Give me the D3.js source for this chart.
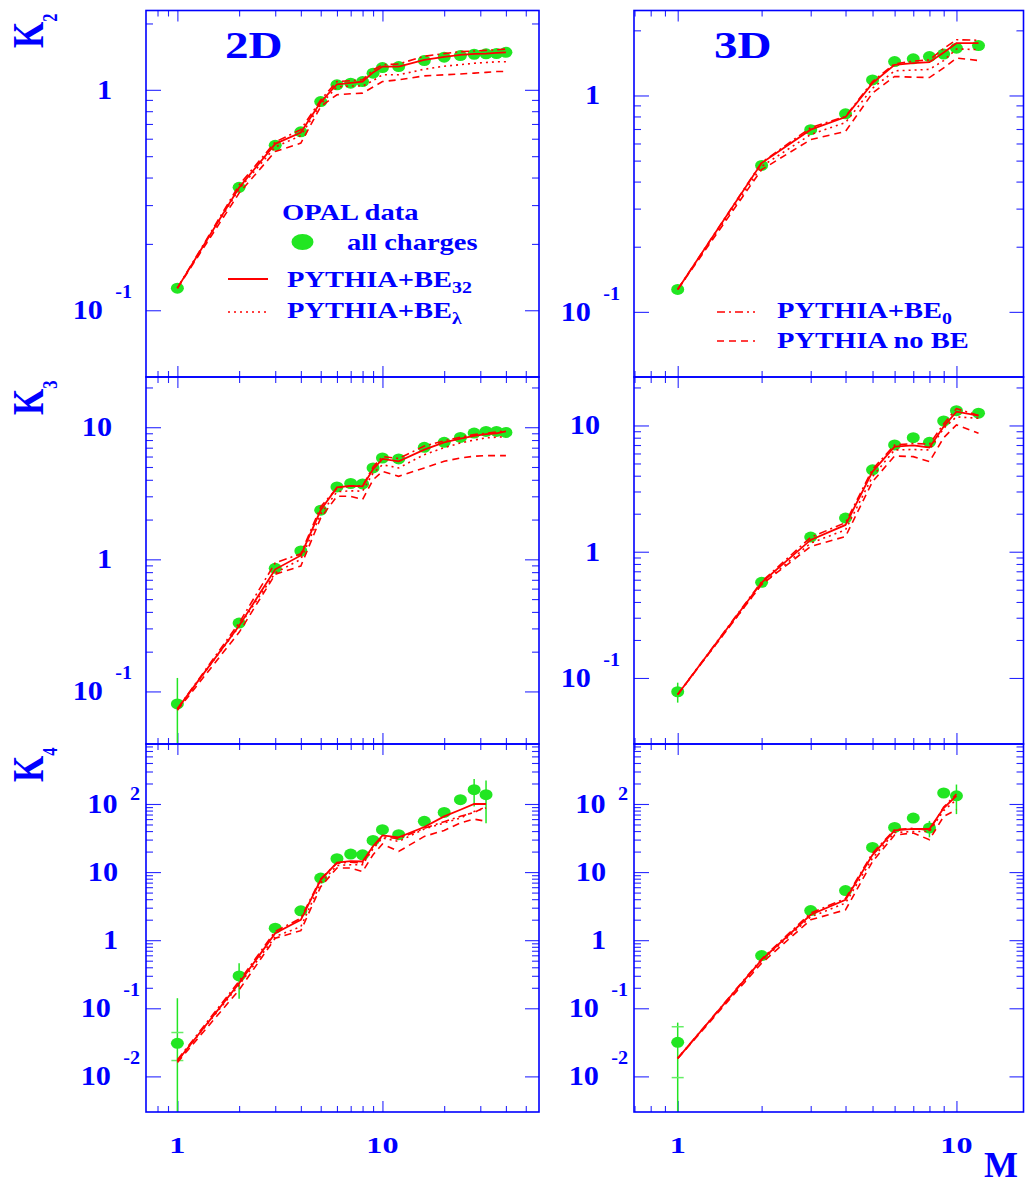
<!DOCTYPE html>
<html lang="en">
<head>
<meta charset="utf-8">
<title>OPAL K2 K3 K4 vs M</title>
<script src="https://cdn.jsdelivr.net/npm/d3@7"></script>
<style>
  body { margin: 0; background: #fff; }
  text { font-family: "Liberation Serif", "Times New Roman", serif; font-weight: bold; fill: #0000ff; }
</style>
</head>
<body>
<script>
// ---- bin numbers M ----
var m2D   = [1, 2, 3, 4, 5, 6, 7, 8, 9, 10, 12, 16, 20, 24, 28, 32, 36, 40];
var m2DK4 = [1, 2, 3, 4, 5, 6, 7, 8, 9, 10, 12, 16, 20, 24, 28, 32];
var m3D   = [1, 2, 3, 4, 5, 6, 7, 8, 9, 10, 12];
var m3DK4 = [1, 2, 3, 4, 5, 6, 7, 8, 9, 10];

// ---- K2, 2D ----
var k2_2d_opal = [0.126, 0.361, 0.56, 0.645, 0.885, 1.054, 1.072, 1.09, 1.19, 1.262, 1.275, 1.358, 1.406, 1.43, 1.45, 1.456, 1.46, 1.48];
var k2_2d_be32 = [0.126, 0.36, 0.569, 0.64, 0.88, 1.06, 1.075, 1.09, 1.2, 1.275, 1.275, 1.367, 1.41, 1.44, 1.455, 1.46, 1.47, 1.48];
var k2_2d_bel  = [0.126, 0.355, 0.55, 0.62, 0.86, 1.03, 1.04, 1.04, 1.1, 1.17, 1.17, 1.24, 1.28, 1.3, 1.32, 1.33, 1.34, 1.34];
var k2_2d_be0  = [0.126, 0.37, 0.58, 0.66, 0.9, 1.09, 1.1, 1.11, 1.23, 1.3, 1.31, 1.42, 1.46, 1.49, 1.5, 1.51, 1.52, 1.53];
var k2_2d_nobe = [0.126, 0.34, 0.525, 0.573, 0.84, 0.95, 0.96, 0.966, 1.03, 1.09, 1.11, 1.157, 1.17, 1.18, 1.19, 1.2, 1.21, 1.21];
var k2_2d_err  = [0, 0, 0, 0, 0, 0, 0, 0, 0, 0, 0, 0, 0, 0, 0, 0, 0, 0];

// ---- K2, 3D ----
var k2_3d_opal = [0.127, 0.475, 0.695, 0.823, 1.18, 1.435, 1.477, 1.513, 1.553, 1.654, 1.70];
var k2_3d_be32 = [0.127, 0.487, 0.695, 0.795, 1.14, 1.386, 1.41, 1.425, 1.58, 1.745, 1.745];
var k2_3d_bel  = [0.127, 0.47, 0.66, 0.75, 1.08, 1.3, 1.31, 1.32, 1.45, 1.64, 1.63];
var k2_3d_be0  = [0.127, 0.49, 0.71, 0.8, 1.16, 1.4, 1.44, 1.46, 1.65, 1.81, 1.8];
var k2_3d_nobe = [0.127, 0.454, 0.625, 0.682, 1.026, 1.224, 1.215, 1.21, 1.34, 1.49, 1.45];
var k2_3d_err  = [0, 0, 0, 0, 0, 0, 0, 0, 0, 0, 0];

// ---- K3, 2D ----
var k3_2d_opal = [0.0805, 0.329, 0.855, 1.156, 2.355, 3.535, 3.75, 3.72, 4.92, 5.85, 5.75, 7.04, 7.68, 8.37, 9.04, 9.3, 9.3, 9.14];
var k3_2d_be32 = [0.0738, 0.314, 0.84, 1.07, 2.36, 3.5, 3.6, 3.57, 4.8, 5.75, 5.52, 6.76, 7.68, 8.2, 8.6, 8.88, 9.0, 9.3];
var k3_2d_bel  = [0.0738, 0.31, 0.79, 1.0, 2.2, 3.25, 3.3, 3.28, 4.5, 5.2, 4.92, 6.2, 7.0, 7.6, 8.0, 8.3, 8.4, 8.5];
var k3_2d_be0  = [0.0738, 0.33, 0.94, 1.1, 2.5, 3.45, 3.6, 3.6, 5.0, 6.0, 5.8, 7.2, 7.9, 8.4, 8.8, 9.0, 9.2, 9.4];
var k3_2d_nobe = [0.072, 0.28, 0.77, 0.89, 2.06, 3.0, 3.0, 2.84, 4.0, 4.64, 4.25, 4.92, 5.52, 5.85, 6.03, 6.1, 6.1, 6.1];
var k3_2d_err  = [0.046, 0, 0, 0, 0, 0, 0, 0, 0, 0, 0, 0, 0, 0, 0, 0, 0, 0];

// ---- K3, 3D ----
var k3_3d_opal = [0.0778, 0.572, 1.306, 1.846, 4.45, 7.01, 8.01, 7.36, 10.85, 13.1, 12.5];
var k3_3d_be32 = [0.074, 0.57, 1.24, 1.63, 4.31, 6.8, 6.95, 6.7, 9.8, 12.85, 11.95];
var k3_3d_bel  = [0.074, 0.55, 1.17, 1.49, 3.94, 6.4, 6.45, 6.4, 9.5, 11.7, 11.4];
var k3_3d_be0  = [0.074, 0.58, 1.3, 1.7, 4.5, 7.0, 7.2, 7.1, 10.3, 13.6, 12.0];
var k3_3d_nobe = [0.074, 0.55, 1.1, 1.32, 3.59, 5.74, 5.66, 5.17, 8.0, 10.1, 8.67];
var k3_3d_err  = [0.014, 0, 0, 0, 0, 0, 0, 0, 0, 0, 0];

// ---- K4, 2D ----
var k4_2d_opal = [0.0306, 0.2985, 1.50, 2.70, 8.16, 15.7, 18.4, 17.96, 29.2, 41.9, 35.4, 55.6, 75.2, 115.7, 162, 137];
var k4_2d_be32 = [0.0168, 0.233, 1.27, 1.99, 7.7, 13.8, 14.5, 14.3, 24, 34.5, 32.3, 45.9, 65.7, 82.4, 100, 100];
var k4_2d_bel  = [0.0168, 0.22, 1.13, 1.58, 6.9, 12.5, 12.8, 12.8, 22, 31.6, 28.2, 42.9, 52.7, 62.2, 77.8, 87.5];
var k4_2d_be0  = [0.0175, 0.25, 1.35, 2.1, 8.0, 13.5, 14.0, 13.5, 24, 33, 31, 44, 55, 66, 75, 92];
var k4_2d_nobe = [0.016, 0.186, 1.07, 1.38, 6.1, 11.5, 11.5, 10.2, 18, 25.8, 20.1, 33.4, 40.9, 52.7, 60, 55.6];
var k4_2d_err  = [0.11, 0.16, 0, 0, 0, 0, 0, 0, 0, 0, 0, 0, 0, 0, 70, 85];
var k4_2d_stat = [0.0135, 0, 0, 0, 0, 0, 0, 0, 0, 0, 0, 0, 0, 0, 0, 0];

// ---- K4, 3D ----
var k4_3d_opal = [0.0316, 0.594, 2.72, 5.36, 23, 45.3, 62.2, 44.4, 145, 132];
var k4_3d_be32 = [0.0184, 0.513, 2.36, 3.92, 17.9, 40.9, 43, 42.9, 87.3, 132];
var k4_3d_bel  = [0.0184, 0.5, 2.2, 3.5, 16.1, 38, 39.5, 39.5, 80, 115.7];
var k4_3d_be0  = [0.0184, 0.53, 2.5, 4.1, 19, 42, 44, 41, 90, 140];
var k4_3d_nobe = [0.0184, 0.46, 1.99, 2.79, 14.3, 35, 37.5, 29.9, 65.7, 82.4];
var k4_3d_err  = [0.03, 0.06, 0, 0, 0, 0, 0, 12, 0, 61];
var k4_3d_stat = [0.022, 0, 0, 0, 0, 0, 0, 0, 0, 0];

// ---- tick labels ----
var xTickVals = [1, 10];
var xTickText = ["1", "10"];
var k2TickVals = [0.1, 1];
var k2TickText = ["10^-1", "1"];
var k3TickVals = [0.1, 1, 10];
var k3TickText = ["10^-1", "1", "10"];
var k4TickVals = [0.01, 0.1, 1, 10, 100];
var k4TickText = ["10^-2", "10^-1", "1", "10", "10^2"];

// ---- layout ----
var W = 1025, H = 1186;
var cols = [
  { x0: 146, x1: 539, dom: [0.703, 58] },
  { x0: 634, x1: 1023.5, dom: [0.697, 17.4] }
];
var rows = [
  { y0: 10.5, y1: 377, dom: [[0.0498, 2.29], [0.05, 2.47]], tv: k2TickVals, tt: k2TickText, plainOff: 34, expOff: 14 },
  { y0: 377, y1: 744, dom: [[0.04, 24], [0.03, 24.2]], tv: k3TickVals, tt: k3TickText, plainOff: 34, expOff: 14 },
  { y0: 744, y1: 1112, dom: [[0.003, 760], [0.003, 760]], tv: k4TickVals, tt: k4TickText, plainOff: 28, expOff: 6 }
];

var panels = [
  { c: 0, r: 0, m: m2D,   opal: k2_2d_opal, err: k2_2d_err, be32: k2_2d_be32, bel: k2_2d_bel, be0: k2_2d_be0, nobe: k2_2d_nobe },
  { c: 1, r: 0, m: m3D,   opal: k2_3d_opal, err: k2_3d_err, be32: k2_3d_be32, bel: k2_3d_bel, be0: k2_3d_be0, nobe: k2_3d_nobe },
  { c: 0, r: 1, m: m2D,   opal: k3_2d_opal, err: k3_2d_err, be32: k3_2d_be32, bel: k3_2d_bel, be0: k3_2d_be0, nobe: k3_2d_nobe },
  { c: 1, r: 1, m: m3D,   opal: k3_3d_opal, err: k3_3d_err, be32: k3_3d_be32, bel: k3_3d_bel, be0: k3_3d_be0, nobe: k3_3d_nobe },
  { c: 0, r: 2, m: m2DK4, opal: k4_2d_opal, err: k4_2d_err, stat: k4_2d_stat, be32: k4_2d_be32, bel: k4_2d_bel, be0: k4_2d_be0, nobe: k4_2d_nobe },
  { c: 1, r: 2, m: m3DK4, opal: k4_3d_opal, err: k4_3d_err, stat: k4_3d_stat, be32: k4_3d_be32, bel: k4_3d_bel, be0: k4_3d_be0, nobe: k4_3d_nobe }
];

var BLUE = "#0000ff", RED = "#ff0000", GREEN = "#22e622";
var styles = {
  be32: { dash: null,        w: 1.8 },
  bel:  { dash: "2,4",       w: 1.6 },
  be0:  { dash: "8,4,2,4",   w: 1.6 },
  nobe: { dash: "7,5",       w: 1.6 }
};

var svg = d3.select("body").append("svg")
  .attr("width", W).attr("height", H);

// text with horizontal stretch
function stext(parent, x, y, size, sx, anchor) {
  return parent.append("text")
    .attr("transform", "translate(" + x + "," + y + ") scale(" + sx + ",1)")
    .attr("text-anchor", anchor)
    .style("font-size", size + "px");
}

function minorTicks(dom) {
  var out = [];
  [0.1, 1, 10, 100].forEach(function(d) {
    for (var k = 2; k <= 9; k++) {
      var v = k * d;
      if (v > dom[0] && v < dom[1]) out.push(v);
    }
  });
  return out;
}
function majorTicks(dom) {
  return [0.001, 0.01, 0.1, 1, 10, 100, 1000].filter(function(v) { return v >= dom[0] && v <= dom[1]; });
}

function styleAxis(sel) {
  sel.select(".domain").remove();
  sel.selectAll("line").attr("stroke", BLUE).attr("stroke-width", 1.1);
}

panels.forEach(function(p, i) {
  var col = cols[p.c], row = rows[p.r];
  var ydom = row.dom[p.c];
  var x = d3.scaleLog().domain(col.dom).range([col.x0, col.x1]);
  var y = d3.scaleLog().domain(ydom).range([row.y1, row.y0]);
  var g = svg.append("g");

  svg.append("clipPath").attr("id", "clip" + i)
    .append("rect").attr("x", col.x0).attr("y", row.y0)
    .attr("width", col.x1 - col.x0).attr("height", row.y1 - row.y0);

  // ticks on all four sides, pointing inwards
  var xMaj = majorTicks(col.dom), xMin = minorTicks(col.dom);
  var yMaj = majorTicks(ydom), yMin = minorTicks(ydom);
  g.append("g").attr("transform", "translate(0," + row.y1 + ")")
    .call(d3.axisBottom(x).tickValues(xMaj).tickSize(-11).tickFormat("")).call(styleAxis);
  g.append("g").attr("transform", "translate(0," + row.y1 + ")")
    .call(d3.axisBottom(x).tickValues(xMin).tickSize(-6).tickFormat("")).call(styleAxis);
  g.append("g").attr("transform", "translate(0," + row.y0 + ")")
    .call(d3.axisTop(x).tickValues(xMaj).tickSize(-11).tickFormat("")).call(styleAxis);
  g.append("g").attr("transform", "translate(0," + row.y0 + ")")
    .call(d3.axisTop(x).tickValues(xMin).tickSize(-6).tickFormat("")).call(styleAxis);
  g.append("g").attr("transform", "translate(" + col.x0 + ",0)")
    .call(d3.axisLeft(y).tickValues(yMaj).tickSize(-15).tickFormat("")).call(styleAxis);
  g.append("g").attr("transform", "translate(" + col.x0 + ",0)")
    .call(d3.axisLeft(y).tickValues(yMin).tickSize(-7).tickFormat("")).call(styleAxis);
  g.append("g").attr("transform", "translate(" + col.x1 + ",0)")
    .call(d3.axisRight(y).tickValues(yMaj).tickSize(-14).tickFormat("")).call(styleAxis);
  g.append("g").attr("transform", "translate(" + col.x1 + ",0)")
    .call(d3.axisRight(y).tickValues(yMin).tickSize(-7).tickFormat("")).call(styleAxis);
  g.selectAll(".tick line").attr("stroke-opacity", 0.85);

  var plot = g.append("g").attr("clip-path", "url(#clip" + i + ")");

  // error bars
  p.m.forEach(function(m, j) {
    var e = p.err[j];
    if (e > 0) {
      var v = p.opal[j];
      var lo = v - e > ydom[0] ? y(v - e) : row.y1 + 2;
      plot.append("line")
        .attr("x1", x(m)).attr("x2", x(m))
        .attr("y1", y(v + e)).attr("y2", lo)
        .attr("stroke", GREEN).attr("stroke-width", 1.5);
    }
    if (p.stat && p.stat[j] > 0) {
      [p.opal[j] + p.stat[j], p.opal[j] - p.stat[j]].forEach(function(s) {
        plot.append("line")
          .attr("x1", x(m) - 6).attr("x2", x(m) + 6)
          .attr("y1", y(s)).attr("y2", y(s))
          .attr("stroke", "#66ee66").attr("stroke-width", 1.5);
      });
    }
  });

  // data points
  plot.selectAll("ellipse.pt").data(p.m).enter().append("ellipse")
    .attr("class", "pt")
    .attr("cx", function(m) { return x(m); })
    .attr("cy", function(m, j) { return y(p.opal[j]); })
    .attr("rx", 6.5).attr("ry", 5.5)
    .attr("fill", GREEN);

  // model curves
  ["nobe", "be0", "bel", "be32"].forEach(function(key) {
    var line = d3.line()
      .x(function(m) { return x(m); })
      .y(function(m, j) { return y(p[key][j]); });
    plot.append("path")
      .attr("d", line(p.m))
      .attr("fill", "none")
      .attr("stroke", RED)
      .attr("stroke-width", styles[key].w)
      .attr("stroke-dasharray", styles[key].dash);
  });

  // frame
  g.append("rect")
    .attr("x", col.x0).attr("y", row.y0)
    .attr("width", col.x1 - col.x0).attr("height", row.y1 - row.y0)
    .attr("fill", "none").attr("stroke", BLUE).attr("stroke-width", 1.6);

  // y tick labels
  row.tv.forEach(function(v, k) {
    var parts = row.tt[k].split("^");
    var yc = y(v);
    if (parts.length === 1) {
      stext(svg, col.x0 - row.plainOff, yc + 9, 27, 1.12, "end").text(parts[0]);
    } else {
      var t = stext(svg, col.x0 - row.expOff, yc + 9, 27, 1.12, "end");
      t.append("tspan").text(parts[0]);
      t.append("tspan")
        .attr("dx", 11)
        .attr("dy", parts[1].charAt(0) === "-" ? -21 : -13)
        .style("font-size", "18px")
        .text(parts[1]);
    }
  });

  // x tick labels under the bottom row
  if (p.r === 2) {
    xTickVals.forEach(function(v, k) {
      stext(svg, x(v), 1153, 23, 1.4, "middle").text(xTickText[k]);
    });
  }
});

// panel titles
stext(svg, 225, 58, 38, 1.24, "start").text("2D");
stext(svg, 714, 58, 38, 1.24, "start").text("3D");

// axis titles K2, K3, K4
[["2", 48], ["3", 415], ["4", 782]].forEach(function(d) {
  var t = svg.append("text")
    .attr("transform", "translate(43," + d[1] + ") rotate(-90) scale(0.75,1)")
    .style("font-size", "45px");
  t.append("tspan").text("K");
  t.append("tspan").attr("dy", 14).style("font-size", "22px").text(d[0]);
});
svg.append("text").attr("x", 984).attr("y", 1177).style("font-size", "36px").text("M");

// legend, left panel
var LS = 1.24;
stext(svg, 282, 220, 23, LS, "start").text("OPAL data");
svg.append("ellipse").attr("cx", 302.5).attr("cy", 242).attr("rx", 11).attr("ry", 8).attr("fill", GREEN);
stext(svg, 347, 250, 23, LS, "start").text("all charges");

function legendLine(x1, x2, yy, key) {
  svg.append("line").attr("x1", x1).attr("x2", x2).attr("y1", yy).attr("y2", yy)
    .attr("stroke", RED).attr("stroke-width", styles[key].w)
    .attr("stroke-dasharray", styles[key].dash);
}
function legendText(x0, yy, main, sub) {
  var t = stext(svg, x0, yy, 23, LS, "start");
  t.append("tspan").text(main);
  if (sub) t.append("tspan").attr("dy", 6).style("font-size", "16px").text(sub);
}
legendLine(228, 268, 279, "be32");
legendText(287, 287, "PYTHIA+BE", "32");
legendLine(228, 268, 312, "bel");
legendText(287, 318, "PYTHIA+BE", "λ");

// legend, right panel
legendLine(717, 755, 312, "be0");
legendText(777, 318, "PYTHIA+BE", "0");
legendLine(717, 755, 341, "nobe");
legendText(777, 348, "PYTHIA no BE", null);
</script>
</body>
</html>
